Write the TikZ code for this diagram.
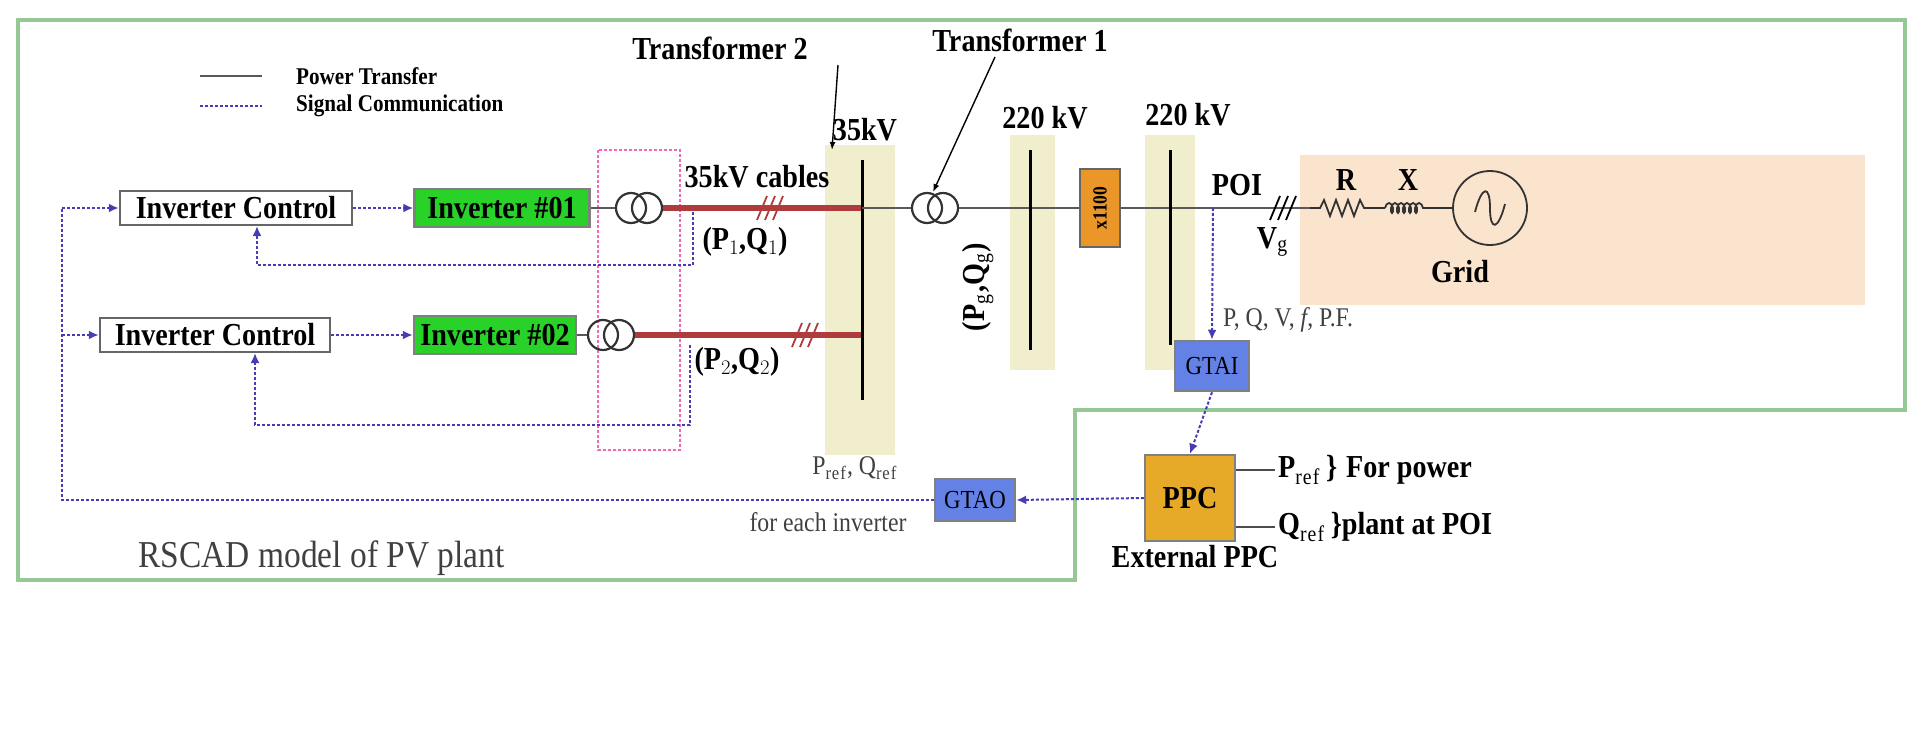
\documentclass[tikz,border=0pt]{standalone}
\usepackage{fontspec}
\setmainfont[FakeStretch=0.88]{Liberation Serif}
\usetikzlibrary{arrows.meta,decorations.pathmorphing}
\definecolor{frame}{RGB}{150,200,150}
\definecolor{beige}{RGB}{240,238,205}
\definecolor{gridbg}{RGB}{250,228,205}
\definecolor{cable}{RGB}{175,60,60}
\definecolor{sig}{RGB}{70,60,180}
\definecolor{ibox}{RGB}{40,210,40}
\definecolor{bluebox}{RGB}{100,130,230}
\definecolor{orng}{RGB}{235,150,40}
\definecolor{ppc}{RGB}{230,170,40}
\begin{document}
\begin{tikzpicture}[x=1pt,y=-1pt,
  lbl/.style={font=\fontsize{32}{34}\selectfont\bfseries,inner sep=1pt},
  leg/.style={font=\fontsize{24}{26}\selectfont\bfseries,inner sep=1pt},
  small/.style={font=\fontsize{27}{29}\selectfont,inner sep=1pt,text=black!75},
  box/.style={draw=black!60,line width=2.5pt,minimum height=34pt,inner sep=1pt,font=\fontsize{32}{34}\selectfont\bfseries},
  sigl/.style={draw=sig,densely dashed,line width=2pt},
  sarr/.style={sigl,-{Latex[length=10pt,width=9pt]}},
  pw/.style={draw=black!65,line width=2.5pt},
  cab/.style={draw=cable,line width=6pt},
  bus/.style={draw=black,line width=3pt},
  xf/.style={draw=black!80,line width=2.2pt,circle,minimum size=30pt,inner sep=0pt}]
\useasboundingbox (0,0) rectangle (1925,736);
% frame
\draw[frame,line width=3.5pt] (18,20) -- (1905,20) -- (1905,410) -- (1075,410) -- (1075,580) -- (18,580) -- cycle;
% backgrounds
\fill[beige] (825,145) rectangle (895,455);
\fill[beige] (1010,135) rectangle (1055,370);
\fill[beige] (1145,135) rectangle (1195,370);
\fill[gridbg] (1300,155) rectangle (1865,305);
% legend
\draw[pw] (200,76) -- (262,76);
\node[leg,anchor=west] (lg1) at (295,76) {Power Transfer};
\draw[sigl] (200,106) -- (262,106);
\node[leg,anchor=west] (lg2) at (295,106) {Signal Communication};
% pink box
\draw[magenta!60,densely dashed,line width=1.8pt] (598,150) rectangle (680,450);
\node[lbl] (t2) at (720,48) {Transformer 2};
\coordinate (t2e) at (832,150);
\draw[black,line width=1.4pt,-{Latex[length=8pt]}] (838,65) -- (t2e);
% row 1
\node[box,fill=white,minimum width=232pt] (ic1) at (236,208) {Inverter Control};
\node[box,fill=ibox,draw=black!50,minimum width=175pt,minimum height=38pt] (inv1) at (502,208) {Inverter \#01};
\node[xf] (x2a) at (631,208) {};
\node[xf] (x2b) at (647,208) {};
\coordinate (b35a) at (862,208);
\draw[pw] (inv1.east) -- (x2a.west);
\draw[cab] (x2b.east) -- (b35a);
\foreach \d in {-8,0,8} \draw[cable,line width=1.8pt] (770+\d-5,220) -- (770+\d+5,196);
\node[lbl] (c35) at (757,177) {35kV cables};
\node[lbl] (pq1) at (745,242) {(P$_1$,Q$_1$)};
% row 2
\node[box,fill=white,minimum width=230pt] (ic2) at (215,335) {Inverter Control};
\node[box,fill=ibox,draw=black!50,minimum width=162pt,minimum height=38pt] (inv2) at (495,335) {Inverter \#02};
\node[xf] (x3a) at (603,335) {};
\node[xf] (x3b) at (619,335) {};
\coordinate (b35b) at (862,335);
\draw[pw] (inv2.east) -- (x3a.west);
\draw[cab] (x3b.east) -- (b35b);
\foreach \d in {-8,0,8} \draw[cable,line width=1.8pt] (805+\d-5,347) -- (805+\d+5,323);
\node[lbl] (pq2) at (737,362) {(P$_2$,Q$_2$)};
% 35kV bus
\draw[bus] (862,160) -- (862,400);
\node[lbl] (l35) at (865,130) {35kV};
% transformer 1
\node[xf] (x1a) at (927,208) {};
\node[xf] (x1b) at (943,208) {};
\draw[pw] (b35a) -- (x1a.west);
\coordinate (poi) at (1213,208);
\draw[pw] (x1b.east) -- (1310,208);
\node[lbl] (t1) at (1020,40) {Transformer 1};
\draw[black,line width=1.4pt,-{Latex[length=8pt]}] (995,57) -- (933,192);
\node[lbl,rotate=90] (pqg) at (978,287) {(P$_\mathrm{g}$,Q$_\mathrm{g}$)};
% 220 buses
\draw[bus] (1030,150) -- (1030,350);
\node[lbl] (l220a) at (1045,118) {220 kV};
\draw[bus] (1170,150) -- (1170,345);
\node[lbl] (l220b) at (1188,115) {220 kV};
\node[draw=black!60,fill=orng,minimum width=40pt,minimum height=78pt,line width=1.8pt] (sc) at (1100,208) {};
\node[rotate=90,font=\fontsize{20}{22}\selectfont\bfseries] at (sc) {x1100};
% POI
\node[lbl] (poil) at (1237,185) {POI};
\foreach \d in {-8,0,8} \draw[black,line width=1.8pt] (1283+\d-5,220) -- (1283+\d+5,196);
\node[lbl] (vg) at (1273,242) {V$_\mathrm{g}$};
% grid R X source
\draw[black!80,line width=1.8pt] (1310,208) -- (1320,208) -- (1324,200) -- (1330,216) -- (1336,200) -- (1342,216) -- (1348,200) -- (1354,216) -- (1360,200) -- (1364,208) -- (1385,208);
\draw[black!80,line width=1.8pt,decorate,decoration={coil,aspect=0.5,segment length=6pt,amplitude=5pt}] (1385,208) -- (1425,208);
\node[draw=black!80,circle,line width=1.8pt,minimum size=74pt] (src) at (1490,208) {};
\draw[black!80,line width=1.8pt] (1425,208) -- (src.west);
\draw[black!80,line width=1.8pt] (1475,212) .. controls (1482,185) and (1490,185) .. (1490,208) .. controls (1490,231) and (1498,231) .. (1505,204);
\node[lbl] (rl) at (1346,180) {R};
\node[lbl] (xl) at (1408,180) {X};
\node[lbl] (gl) at (1460,272) {Grid};
% GTAI / PPC / GTAO
\node[draw=black!50,fill=bluebox,line width=2.5pt,minimum width=74pt,minimum height=50pt,font=\fontsize{26}{28}\selectfont] (gtai) at (1212,366) {GTAI};
\node[draw=black!50,fill=ppc,line width=2.5pt,minimum width=90pt,minimum height=86pt,font=\fontsize{32}{34}\selectfont\bfseries] (ppcn) at (1190,498) {PPC};
\node[lbl] (eppc) at (1195,557) {External PPC};
\node[draw=black!50,fill=bluebox,line width=2.5pt,minimum width=80pt,minimum height=42pt,font=\fontsize{26}{28}\selectfont] (gtao) at (975,500) {GTAO};
\draw[sarr] (poi) -- (gtai.north);
\node[small,anchor=west] (pqv) at (1222,320) {P, Q, V, \textit{f}, P.F.};
\draw[sarr] (gtai.south) -- (ppcn.north);
\draw[sarr] (ppcn.west) -- (gtao.east);
\draw[black!70,line width=2.5pt] (ppcn.east |- 0,470) -- (1275,470);
\draw[black!70,line width=2.5pt] (ppcn.east |- 0,527) -- (1275,527);
\node[lbl,anchor=west] (pref) at (1277,470) {P$_\mathrm{ref}$\,\}\;For power};
\node[lbl,anchor=west] (qref) at (1277,527) {Q$_\mathrm{ref}$\,\}plant at POI};
\node[small] (pqr) at (855,468) {P$_\mathrm{ref}$, Q$_\mathrm{ref}$};
\node[small] (fei) at (828,522) {for each inverter};
% signal loop
\coordinate (lc) at (62,500);
\draw[sigl] (gtao.west) -- (lc) -- (62,208);
\draw[sarr] (62,208) -- (ic1.west);
\draw[sarr] (62,335) -- (ic2.west);
\draw[sarr] (ic1.east) -- (inv1.west);
\draw[sarr] (ic2.east) -- (inv2.west);
\draw[sarr] (693,212) -- (693,265) -- (257,265) -- (257,226);
\draw[sarr] (690,345) -- (690,425) -- (255,425) -- (255,353);
\node[font=\fontsize{38}{40}\selectfont,text=black!75,anchor=west] (rs) at (135,558) {RSCAD model of PV plant};
\end{tikzpicture}
\end{document}
